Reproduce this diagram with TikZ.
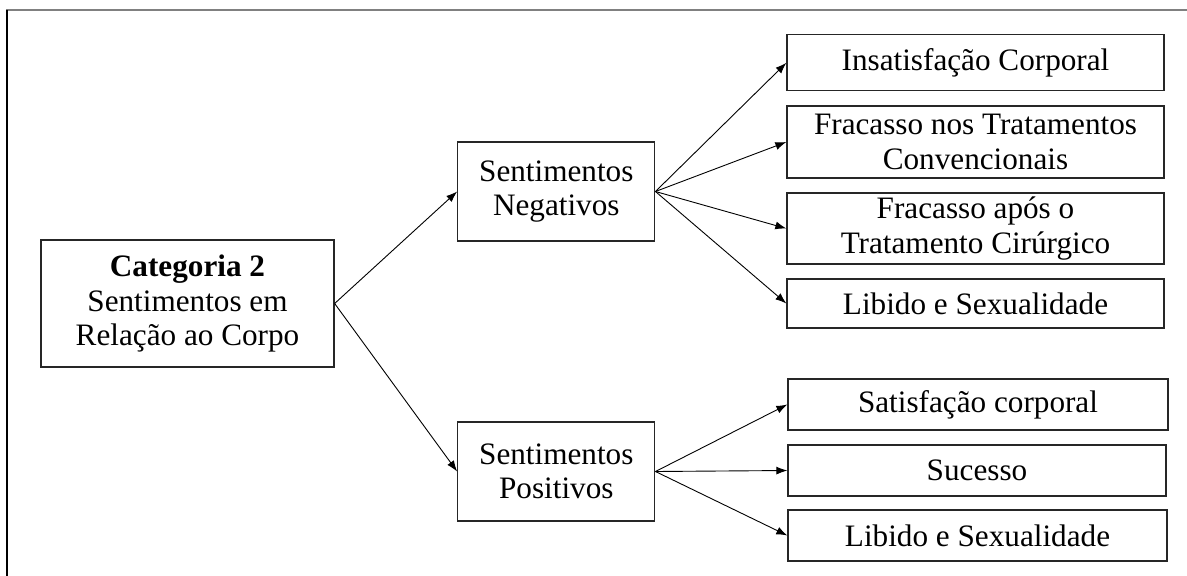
\documentclass[tikz,border=0pt]{standalone}
\usepackage{fontspec}
\setmainfont{Liberation Serif}
\usetikzlibrary{arrows.meta}
\begin{document}
\begin{tikzpicture}[x=1pt,y=-1pt,
  box/.style={draw=black!85, line width=1.3pt, align=center, inner sep=0pt,
    font=\fontsize{31.2}{34.5}\selectfont},
  link/.style={line width=0.9pt, -{Latex[length=11pt,width=8pt]}}]
\useasboundingbox (0,0) rectangle (1187,576);
% page frame
\draw[line width=2pt, black!50] (6,9.5) -- (1187,9.5);
\draw[line width=2pt] (7.3,9.5) -- (7.3,576);
% boxes
\node[box, minimum width=293pt, minimum height=127pt] (root) at (187.5,303.5)
  {\textbf{Categoria 2}\\Sentimentos em\\Relação ao Corpo};
\node[box, minimum width=197pt, minimum height=99pt] (neg) at (556.3,191.5)
  {Sentimentos\\Negativos};
\node[box, minimum width=197pt, minimum height=99pt] (pos) at (556.3,471.5)
  {Sentimentos\\Positivos};
\node[box, minimum width=377pt, minimum height=56pt] (n1) at (975.5,62.8)
  {Insatisfação Corporal};
\node[box, minimum width=377pt, minimum height=72pt] (n2) at (975.5,142)
  {Fracasso nos Tratamentos\\Convencionais};
\node[box, minimum width=377pt, minimum height=71pt] (n3) at (975.5,228.5)
  {Fracasso após o\\Tratamento Cirúrgico};
\node[box, minimum width=377pt, minimum height=49pt] (n4) at (975.5,303.5)
  {Libido e Sexualidade};
\node[box, minimum width=380pt, minimum height=51pt] (p1) at (978,404.5)
  {Satisfação corporal};
\node[box, minimum width=378pt, minimum height=51pt] (p2) at (977,470.5)
  {Sucesso};
\node[box, minimum width=379pt, minimum height=51pt] (p3) at (977.5,535.5)
  {Libido e Sexualidade};
% connectors
\draw[link] (root.east) -- (neg.west);
\draw[link] (root.east) -- (pos.west);
\foreach \t in {n1,n2,n3,n4} \draw[link] (neg.east) -- (\t.west);
\foreach \t in {p1,p2,p3} \draw[link] (pos.east) -- (\t.west);
\end{tikzpicture}
\end{document}
